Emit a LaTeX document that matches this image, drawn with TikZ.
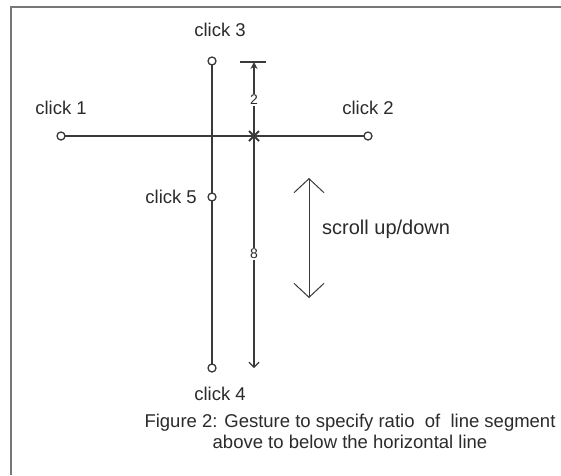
\documentclass[tikz,border=0pt]{standalone}
\usepackage{fontspec}
\setmainfont{Liberation Sans}
\usetikzlibrary{arrows.meta}
\definecolor{txt}{HTML}{2B2B2B}
\definecolor{ln}{HTML}{3A3A3A}
\definecolor{frame}{HTML}{777777}
\begin{document}
\begin{tikzpicture}[x=1pt,y=-1pt,
  clk/.style={circle,draw=ln,fill=white,line width=1.3pt,minimum size=8pt,inner sep=0pt},
  lbl/.style={text=txt,font=\fontsize{18.5}{22}\selectfont,inner sep=0pt},
  dimlbl/.style={text=txt,font=\fontsize{14}{16}\selectfont,fill=white,inner sep=1pt},
  mainline/.style={draw=ln,line width=1.6pt},
  dimline/.style={draw=ln,line width=1.2pt}]
\useasboundingbox (0,0) rectangle (561,475);
\fill[white] (0,0) rectangle (561,475);
\draw[frame,line width=1.6pt] (11,475) -- (11,7) -- (561,7);
% main lines
\coordinate (hl) at (61,136);
\coordinate (hr) at (368,136);
\coordinate (vt) at (212,61);
\coordinate (vb) at (212,368);
\draw[mainline] (hl) -- (hr);
\draw[mainline] (vt) -- (vb);
\node[clk] (c1) at (hl) {};
\node[clk] (c2) at (hr) {};
\node[clk] (c3) at (vt) {};
\node[clk] (c4) at (vb) {};
\node[clk] (c5) at (212,197) {};
% labels
\node[lbl] (t3) at (220,30) {click 3};
\node[lbl] (t1) at (61,108) {click 1};
\node[lbl] (t2) at (368,108) {click 2};
\node[lbl,anchor=east] (t5) at (197,197) {click 5};
\node[lbl] (t4) at (220,394) {click 4};
% dimension
\coordinate (dt) at (254,62);
\coordinate (dm) at (254,136);
\coordinate (db) at (254,368);
\coordinate (tkl) at (240,62);
\coordinate (tkr) at (266,62);
\draw[dimline] (tkl) -- (tkr);
\draw[dimline,-{Stealth[length=7pt,width=7pt]}] (dm) -- (dt);
\draw[dimline,-{Straight Barb[length=5pt,width=10pt]}] (dm) -- (db);
\draw[ln,line width=1.8pt] (249,131) -- (259,141) (249,141) -- (259,131);
\node[dimlbl] (n2) at (254,100) {2};
\node[dimlbl] (n8) at (254,254) {8};
% scroll arrow
\coordinate (st) at (309,178);
\coordinate (sb) at (309,298);
\draw[ln,line width=1pt,{Straight Barb[length=14pt,width=30pt,line width=1pt]}-{Straight Barb[length=14pt,width=30pt,line width=1pt]}] (st) -- (sb);
\node[lbl,anchor=west,font=\fontsize{20}{24}\selectfont] (scr) at (322,229) {scroll up/down};
% caption
\node[lbl,align=center,font=\fontsize{18.5}{21}\selectfont] (cap) at (350,431) {Figure 2: Gesture to specify ratio\ \ of\ \ line segment\\above to below the horizontal line};
\end{tikzpicture}
\end{document}
